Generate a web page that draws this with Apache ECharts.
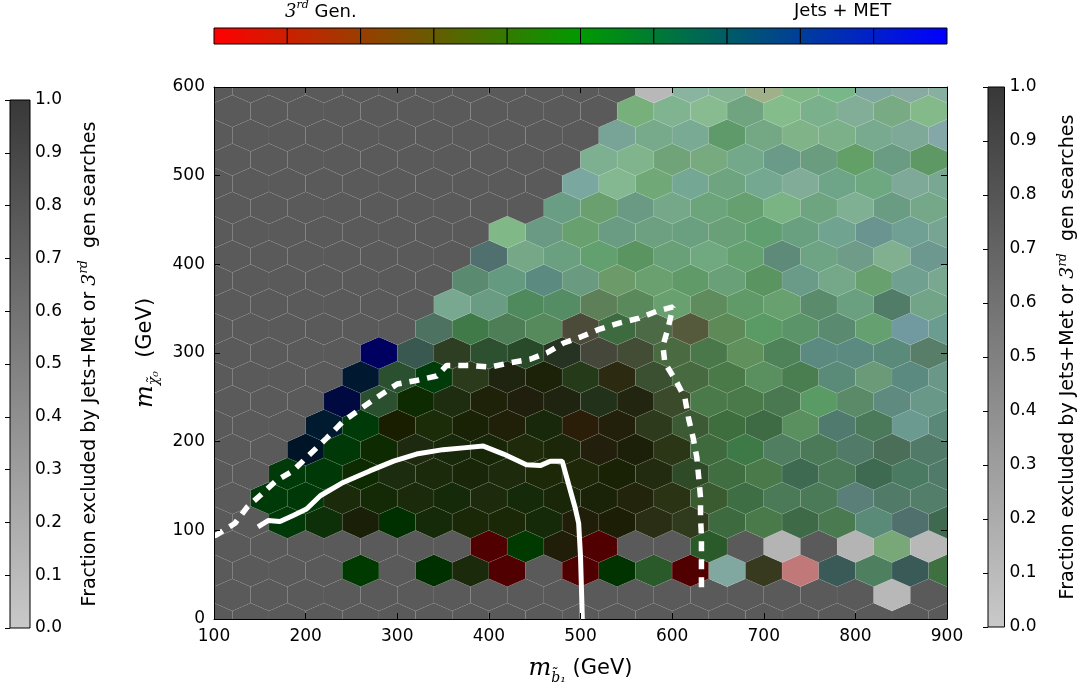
<!DOCTYPE html>
<html>
<head>
<meta charset="utf-8">
<script src="https://cdn.jsdelivr.net/npm/echarts@6/dist/echarts.min.js"></script>
<style>html,body{margin:0;background:#fff}#chart{width:1079px;height:690px}</style>
</head>
<body>
<div id="chart"></div>
<script>
// hex grid: 20 columns over 100..900, 22 half-rows over 0..600
var XMIN = 100, XSTEP = 40, YMAX = 600, NROW = 22;
var BG = '#5a5a5a';
var _ = null;

// hex colours, one array per row (row 0 at y = 0), null = empty cell
var row0  = [_,_,_,_,_,_,_,_,_,_,_,_,_,_,_,_,_,_,_,_,_];
var row1  = [_,_,_,_,_,_,_,_,_,_,_,_,_,_,_,_,_,_,'#b8b8b8',_];
var row2  = [_,_,_,_,'#003a00',_,'#003000','#1a2a0a','#500000',_,'#500000','#003300','#2a5a2a','#500000','#80a8a0','#383a20','#c07878','#3a5a58','#4e8060','#3a5a58','#3e7040'];
var row3  = [_,_,_,_,_,_,_,'#500000','#003a00','#201e08','#500000',_,_,'#2a5a2a',_,'#b4b4b4',_,'#b4b4b4','#78a878','#b8b8b8'];
var row4  = [_,_,'#003808','#0e3008','#1a2008','#003000','#142a08','#1a2808','#1a2808','#142a08','#201e08','#1c1e06','#2a2e14','#303a1c','#3e6a40','#4a7a4a','#3e6a48','#4a7a50','#5a8a78','#50706e','#406a50'];
var row5  = [_,'#003a08','#003808','#1a2a0a','#142a06','#1a2a0a','#142a08','#1e2a0c','#142a08','#1a2608','#1a2208','#22240c','#2a3414','#3a5a30','#3e6e44','#4a7a58','#4a7a58','#5a7e78','#527a68','#527e6a'];
var row6  = [_,_,'#003a08','#003808','#0e2a00','#1c2c0e','#1a2a0a','#1a2608','#1e2a0c','#1c2808','#1e2808','#1a2206','#222a10','#2e4a26','#406e40','#4a7a4a','#3e6a52','#4a7a58','#3e6a52','#4a7a62','#507a6a'];
var row7  = [_,_,'#001428','#003808','#0e2a00','#1e2a10','#18280a','#162606','#1e2a0a','#1c2608','#22200c','#1c2008','#2a3616','#3e6a3e','#3e7a48','#507e60','#4a7a58','#527a68','#4a6e58','#527a68'];
var row8  = [_,_,_,'#001a30','#003a08','#1a1e00','#1a2c08','#1a2206','#202008','#18280a','#2a1e08','#22200a','#2e3a1c','#3c5a34','#3e6e3e','#3e6a44','#5a9060','#507a6e','#4a7a5a','#6a9a90','#5a8878'];
var row9  = [_,_,_,'#000a40','#2a5030','#0e2a00','#1e2c10','#1e2208','#201e0c','#1e2410','#22321a','#222610','#3a4a2a','#4a7a4a','#4a7a4a','#4a7850','#5a9a64','#5a8a68','#5e8a80','#6a9888'];
var row10 = [_,_,_,_,'#001830','#2a5030','#003c0a','#2a3a1a','#1e2410','#1c2208','#243a18','#2c2a10','#3a5030','#486a40','#4a7a48','#5a9060','#4a7e50','#5a8a78','#6a9a78','#5a8a80','#6a9888'];
var row11 = [_,_,_,_,'#000060','#385850','#2e3e22','#2c5030','#284a28','#263222','#45473a','#434d35','#4a6a42','#4a784a','#60905c','#4e8258','#5a8a80','#5a8a80','#5a8a7a','#587e6a'];
var row12 = [_,_,_,_,_,_,'#4e7262','#407a48','#4e7e56','#568a5c','#4c4a38','#3e6a40','#4c6a46','#555a3c','#5e8a58','#5a9a64','#5a9468','#5a8a70','#64a070','#709aa0','#6a9c90'];
var row13 = [_,_,_,_,_,_,'#78a890','#6a9c84','#4e8a5c','#548c64','#5e8058','#5a8a5c','#68a070','#5e8c5c','#609a68','#68a070','#5a8c6c','#6aa080','#507c68','#72a488'];
var row14 = [_,_,_,_,_,_,_,'#5a8a70','#649a80','#5a8a80','#6a9a80','#6c9a68','#6aa070','#609a68','#6aa078','#5a9460','#6a9a88','#74a888','#68a070','#70a090','#78a890'];
var row15 = [_,_,_,_,_,_,_,'#507070','#76a888','#6aa080','#62a070','#5a9460','#6aa078','#70a880','#64a070','#5e8a7a','#6ea484','#6e9c88','#80b090','#6c9890'];
var row16 = [_,_,_,_,_,_,_,_,'#80b888','#6a9a84','#68a070','#6a9c84','#6ca080','#6aa080','#6aa078','#60a070','#68a080','#70a490','#6a9490','#70a094','#78a494'];
var row17 = [_,_,_,_,_,_,_,_,_,'#6a9e84','#6aa070','#6a9a84','#74a888','#6ca47c','#66a070','#7ab484','#6ea480','#80b094','#6a9c84','#74a888'];
var row18 = [_,_,_,_,_,_,_,_,_,_,'#7aa8a0','#84b890','#70a878','#74a894','#6ea480','#74a890','#80ac98','#6ea488','#6ea880','#7ea898','#78a894'];
var row19 = [_,_,_,_,_,_,_,_,_,_,'#7cb090','#80b48c','#70a478','#78aa80','#74a88a','#6a9a88','#6a9c80','#62a068','#6a9c84','#5e9864'];
var row20 = [_,_,_,_,_,_,_,_,_,_,_,'#78a498','#76aa8a','#78aa94','#5e9a6a','#74a884','#80b488','#7cb088','#78aa90','#7ea898','#84a8a8'];
var row21 = [_,_,_,_,_,_,_,_,_,_,_,'#78b07c','#80b490','#88bc90','#70a480','#84bc8c','#7ab08c','#82ae98','#78aa84','#84ba8a'];
var row22 = [_,_,_,_,_,_,_,_,_,_,_,_,'#b8b8b8','#88b4a0','#84b494','#a0b088','#80b888','#78b888','#80a8a0','#88aaa0','#88b0a0'];

// exclusion contours (GeV)
var dashX = [100,103,123,136,150,168,186,205,223,241,260,278,300,321,343,354,380,401,423,445,463,481,500,521,543,563,583,601,596,590,592,605,614,618,623,627,629,631,631,632,632,632,632];
var dashY = [94,95,108,126,139,156,167,186,204,223,237,250,265,269,274,286,286,284,289,293,300,311,318,327,334,339,347,352,330,308,289,267,249,226,204,182,160,137,115,93,71,49,31];
var solidX = [148,159,172,187,201,216,241,270,296,321,350,372,394,416,441,456,467,480,487,494,498,500,502];
var solidY = [104,111,110,117,124,139,154,167,178,186,191,193,195,186,174,173,178,178,152,126,108,71,0];

// colour bars
var greyStops = ['#c9c9c9', '#383838'];
var genStops = ['#ff0000', '#009a00', '#0000ff'];
var genSegments = [0,1,2,3,4,5,6,7,8,9];

var rows = [row0,row1,row2,row3,row4,row5,row6,row7,row8,row9,row10,row11,row12,row13,row14,row15,row16,row17,row18,row19,row20,row21,row22];
var SY = YMAX / NROW * 2;
var hexOff = [[XSTEP/2,-SY/6],[XSTEP/2,SY/6],[0,SY/3],[-XSTEP/2,SY/6],[-XSTEP/2,-SY/6],[0,-SY/3]];
var hexData = [], hexColors = [];
rows.forEach(function(r, j){
  var x0 = XMIN + (j % 2 ? XSTEP/2 : 0);
  r.forEach(function(c, k){
    hexData.push([x0 + k*XSTEP, j*YMAX/NROW]);
    hexColors.push(c);
  });
});

function mix(a, b, t){
  var pa = [1,3,5].map(function(i){return parseInt(a.substr(i,2),16);});
  var pb = [1,3,5].map(function(i){return parseInt(b.substr(i,2),16);});
  return 'rgb(' + pa.map(function(v,i){return Math.round(v+(pb[i]-v)*t);}).join(',') + ')';
}
function genColor(t){
  if (t <= 0.5) return mix(genStops[0], genStops[1], t*2);
  return mix(genStops[1], genStops[2], (t-0.5)*2);
}

var FONT = 'DejaVu Sans';
var mathRich = {
  m: {fontFamily:'DejaVu Serif', fontStyle:'italic', fontSize:24, lineHeight:32, color:'#000'},
  s: {fontFamily:'DejaVu Serif', fontStyle:'italic', fontSize:14, lineHeight:14, verticalAlign:'bottom', color:'#000'},
  g: {fontFamily:FONT, fontSize:21, lineHeight:32, color:'#000'}
};
var cbRich = {
  t: {fontFamily:FONT, fontSize:19, lineHeight:24, color:'#000'},
  n: {fontFamily:'DejaVu Serif', fontStyle:'italic', fontSize:19, lineHeight:24, color:'#000'},
  sup: {fontFamily:'DejaVu Serif', fontStyle:'italic', fontSize:12, verticalAlign:'top', lineHeight:12, color:'#000'}
};
var cbName = '{t|Fraction excluded by Jets+Met or }{n|3}{sup|rd}{t|  gen searches}';

function tickAxis(extra){
  var a = {
    type:'value', z:10,
    axisLine:{show:true, onZero:false, lineStyle:{color:'#000', width:1}},
    axisTick:{show:true, inside:true, length:6, lineStyle:{color:'#000'}},
    axisLabel:{show:false},
    splitLine:{show:false}
  };
  for (var k in extra) a[k] = extra[k];
  return a;
}
var labelStyle = {show:true, color:'#000', fontSize:17, fontFamily:FONT, margin:9};
var cbLabel = {show:true, color:'#000', fontSize:17, fontFamily:FONT, margin:5,
  formatter:function(v){return v.toFixed(1);}};

function greyBar(params, api){
  var p0 = api.coord([0,1]), p1 = api.coord([1,0]);
  return {type:'rect', shape:{x:p0[0], y:p0[1], width:p1[0]-p0[0], height:p1[1]-p0[1]},
    style:{fill:{type:'linear', x:0, y:0, x2:0, y2:1,
      colorStops:[{offset:0,color:greyStops[1]},{offset:1,color:greyStops[0]}]},
      stroke:'#000', lineWidth:1}};
}

var chart = echarts.init(document.getElementById('chart'));
chart.setOption({
  animation:false,
  backgroundColor:'#fff',
  grid:[
    {left:214, top:87, width:733, height:540},
    {left:10, top:100, width:20, height:528},
    {left:988, top:87, width:20, height:540},
    {left:214, top:28, width:733, height:16}
  ],
  xAxis:[
    tickAxis({gridIndex:0, min:100, max:900, interval:100, position:'bottom',
      axisLabel:labelStyle,
      name:'{m|m}{s|b\u0303\u2081}{g| (GeV)}', nameLocation:'middle', nameGap:34,
      nameTextStyle:{rich:mathRich}}),
    tickAxis({gridIndex:0, min:100, max:900, interval:100, position:'top'}),
    {gridIndex:1, type:'value', min:0, max:1, show:false},
    {gridIndex:2, type:'value', min:0, max:1, show:false},
    {gridIndex:3, type:'value', min:0, max:1, show:false}
  ],
  yAxis:[
    tickAxis({gridIndex:0, min:0, max:600, interval:100, position:'left',
      axisLabel:labelStyle,
      name:'{m|m}{s|\u03c7\u0303\u2080}{g|  (GeV)}', nameLocation:'middle', nameGap:52, nameRotate:90,
      nameTextStyle:{rich:mathRich}}),
    tickAxis({gridIndex:0, min:0, max:600, interval:100, position:'right'}),
    tickAxis({gridIndex:1, min:0, max:1, interval:0.1, position:'right', axisLine:{show:false},
      axisTick:{show:true, inside:true, length:5, lineStyle:{color:'#000'}},
      axisLabel:cbLabel, name:cbName, nameLocation:'middle', nameRotate:90, nameGap:48,
      nameTextStyle:{rich:cbRich}}),
    tickAxis({gridIndex:2, min:0, max:1, interval:0.1, position:'right', axisLine:{show:false},
      axisTick:{show:true, inside:true, length:5, lineStyle:{color:'#000'}},
      axisLabel:cbLabel, name:cbName, nameLocation:'middle', nameRotate:90, nameGap:52,
      nameTextStyle:{rich:cbRich}}),
    {gridIndex:3, type:'value', min:0, max:1, show:false}
  ],
  series:[
    {
      type:'custom', xAxisIndex:0, yAxisIndex:0, clip:true, z:2,
      data:hexData,
      renderItem:function(params, api){
        var cx = api.value(0), cy = api.value(1);
        var pts = hexOff.map(function(o){return api.coord([cx+o[0], cy+o[1]]);});
        var c = hexColors[params.dataIndex];
        return {type:'polygon', shape:{points:pts},
          style: c ? {fill:c, stroke:'rgba(255,255,255,0.10)', lineWidth:0.6}
                   : {fill:BG, stroke:'rgba(255,255,255,0.08)', lineWidth:0.6, lineDash:[2,2]}};
      }
    },
    {
      type:'line', xAxisIndex:0, yAxisIndex:0, z:5, showSymbol:false, symbol:'none',
      data:dashX.map(function(x,i){return [x, dashY[i]];}),
      lineStyle:{color:'#fff', width:5.5, type:[10,8], cap:'butt'}
    },
    {
      type:'line', xAxisIndex:0, yAxisIndex:0, z:5, showSymbol:false, symbol:'none',
      data:solidX.map(function(x,i){return [x, solidY[i]];}),
      lineStyle:{color:'#fff', width:5}
    },
    {type:'custom', xAxisIndex:2, yAxisIndex:2, data:[[0,0]], renderItem:greyBar},
    {type:'custom', xAxisIndex:3, yAxisIndex:3, data:[[0,0]], renderItem:greyBar},
    {
      type:'custom', xAxisIndex:4, yAxisIndex:4, data:genSegments.map(function(i){return [i];}),
      renderItem:function(params, api){
        var i = api.value(0), n = genSegments.length;
        var p0 = api.coord([i/n, 1]), p1 = api.coord([(i+1)/n, 0]);
        return {type:'rect', shape:{x:p0[0], y:p0[1], width:p1[0]-p0[0], height:p1[1]-p0[1]},
          style:{fill:{type:'linear', x:0, y:0, x2:1, y2:0,
            colorStops:[{offset:0,color:genColor(i/n)},{offset:1,color:genColor((i+1)/n)}]},
            stroke:'#000', lineWidth:1}};
      }
    }
  ],
  graphic:[
    {type:'text', left:285, top:0, style:{rich:{
      n:{fontFamily:'DejaVu Serif', fontStyle:'italic', fontSize:18, lineHeight:24, fill:'#000'},
      sup:{fontFamily:'DejaVu Serif', fontStyle:'italic', fontSize:11, lineHeight:12, verticalAlign:'top', fill:'#000'},
      t:{fontFamily:FONT, fontSize:18, lineHeight:24, fill:'#000'}},
      text:'{n|3}{sup|rd}{t| Gen.}'}},
    {type:'text', left:794, top:2, style:{text:'Jets + MET', fontFamily:FONT, fontSize:18, fill:'#000'}}
  ]
});
</script>
</body>
</html>
